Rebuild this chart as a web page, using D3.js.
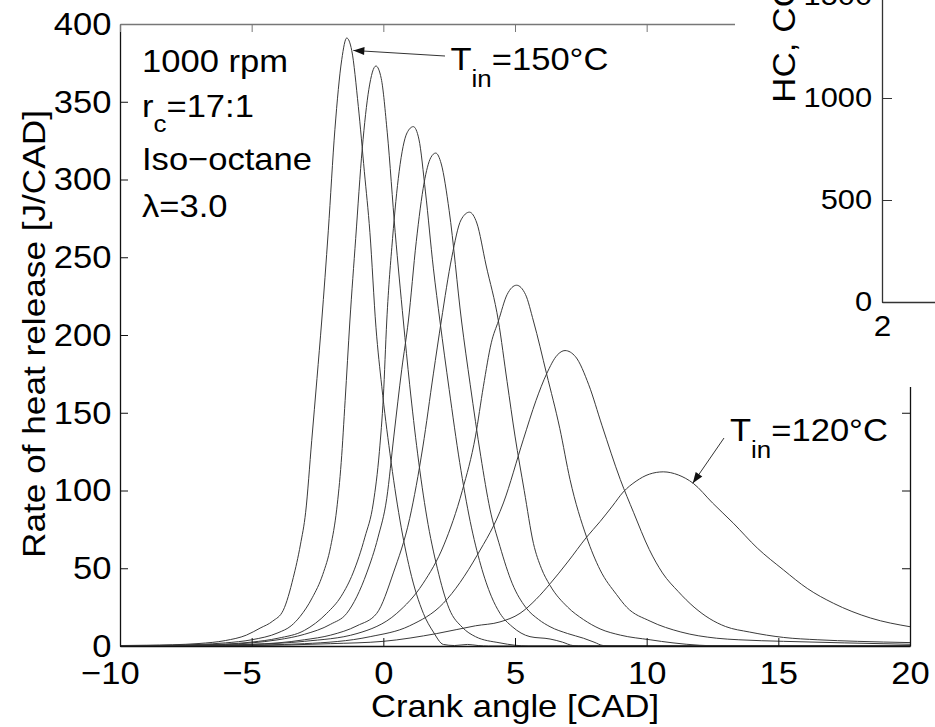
<!DOCTYPE html>
<html><head><meta charset="utf-8">
<script src="https://cdn.jsdelivr.net/npm/d3@7"></script>
<style>
body{margin:0;background:#fff}
text{font-family:"Liberation Sans",Arial,Helvetica,sans-serif;fill:#000}
</style>
</head><body>
<svg id="chart" width="935" height="727"></svg>
<script>
// ---- data (crank angle [CAD], rate of heat release [J/CAD]) ----
const xTicks = [-10, -5, 0, 5, 10, 15, 20];
const yTicks = [0, 50, 100, 150, 200, 250, 300, 350, 400];

const curve1 = [[-10,0.3],[-9,0.5],[-8,0.8],[-7,1.6],[-6,3.5],[-5.2,7],[-4.68,11.5],[-4.2,16],[-3.8,23],[-3.42,44],[-3.15,65],[-2.95,86],[-2.72,132],[-2.52,172],[-2.34,209],[-2.09,267],[-1.84,332],[-1.58,377],[-1.39,391],[-1.2,383],[-0.95,347],[-0.72,305],[-0.51,266],[-0.28,205],[-0.06,167],[0.25,124],[0.63,81],[1.01,49],[1.52,21],[1.9,9],[2.28,1],[2.7,0.3],[3.2,1],[3.6,0.3],[4,0],[20,0]];
const curve2 = [[-10,0.2],[-8,0.5],[-7,1],[-6,2],[-5,4],[-4,8.5],[-3.5,13],[-3.16,19],[-2.7,31],[-2.3,46],[-2.0,64],[-1.77,88],[-1.6,118],[-1.45,158],[-1.27,209],[-1.05,262],[-0.8,320],[-0.55,358],[-0.28,373],[-0.08,365],[0.15,330],[0.45,266],[0.76,209],[1.0,168],[1.3,124],[1.65,83],[2.05,50],[2.5,24],[3.0,12],[3.5,6],[4.43,2],[5,0.5],[5.5,0],[20,0]];
const curve3 = [[-10,0.1],[-8,0.4],[-6,1.2],[-5,2.5],[-4,5],[-3,10],[-2.15,21],[-1.6,32],[-1.15,47],[-0.7,70],[-0.38,92],[-0.15,125],[0.0,160],[0.13,209],[0.35,262],[0.6,305],[0.9,330],[1.14,334],[1.35,326],[1.6,292],[1.9,243],[2.15,209],[2.5,165],[2.9,118],[3.3,80],[3.7,52],[4.1,32],[4.43,21],[4.89,12.5],[5.57,6],[6.33,4.5],[6.8,2.5],[7.2,0.3],[7.6,0],[20,0]];
const curve4 = [[-10,0.1],[-8,0.3],[-6,1],[-5,2],[-4,4],[-3,7.5],[-2,14],[-1.39,21],[-0.63,47],[-0.2,70],[0.13,95],[0.4,135],[0.7,178],[0.95,209],[1.25,260],[1.55,298],[1.8,314],[1.99,317],[2.2,310],[2.5,280],[2.97,209],[3.3,168],[3.7,122],[4.05,88],[4.43,64],[4.9,40],[5.4,25],[5.9,17],[6.33,12.4],[7.0,8],[7.6,5],[8.0,2.5],[8.35,0.3],[8.8,0],[20,0]];
const curve5 = [[-10,0.1],[-8,0.2],[-6,0.6],[-4,2],[-3,4],[-2,7],[-1,13],[-0.25,21],[0.38,47],[1.0,82],[1.5,128],[1.9,175],[2.2,209],[2.6,250],[2.95,274],[3.27,279],[3.55,272],[3.9,245],[4.37,209],[4.7,170],[5.0,135],[5.35,100],[5.7,66],[6.0,50],[6.33,39],[7.0,25],[7.6,17],[8.23,11],[9,7],[10.13,4],[11,2],[12,0.5],[13,0],[20,0]];
const curve6 = [[-10,0],[-7,0.3],[-5,1],[-3,3],[-1,8],[0.51,21],[1.5,40],[2.3,65],[3.0,100],[3.5,135],[3.8,167],[4.1,195],[4.37,209],[4.7,226],[5.06,232],[5.4,226],[5.7,209],[6.2,175],[6.7,140],[7.09,107],[7.72,70],[8.23,49],[8.86,33],[9.24,25],[10.13,16],[11.3,9],[12.66,5],[13.5,4],[15.2,3],[17.5,2],[20,1.1]];
const curve7 = [[-10,0],[-6,0.3],[-3,1.5],[-0.5,6],[1,13],[2.28,27.5],[3.55,58],[4.56,92],[5.32,133],[5.8,158],[6.2,175],[6.6,187],[6.9,190],[7.3,186],[7.8,168],[8.3,142],[9.0,107],[9.5,86],[10.1,62],[10.6,47],[11.2,35],[11.8,25],[12.4,17.5],[13.0,12.5],[13.9,9],[15.2,5.5],[16.5,4],[18,3],[20,2.2]];
const curve8 = [[-10,0],[-5,0.3],[-2,1.5],[0,3],[2.03,8],[3.5,13],[4.43,15.5],[5.19,21],[5.8,30],[6.33,40],[7.0,54],[7.72,70],[8.23,80],[8.7,90],[9.11,99],[9.6,106],[10.1,110.5],[10.63,112],[11.2,110],[11.77,104.6],[12.5,92],[13.29,79],[14.2,63],[15.19,49],[16.1,37],[17.09,27.5],[18.5,18],[20,12.4]];
const curves = [curve1, curve2, curve3, curve4, curve5, curve6, curve7, curve8];

// annotation anchor points on curves
const hotPoint = [-1.14, 383];    // T_in = 150 °C curve
const coldPoint = [11.75, 104.6]; // T_in = 120 °C curve
const conditions = ["1000 rpm", "r_c=17:1", "Iso\u2212octane", "\u03bb=3.0"];

// inset fragment (neighbouring figure) ticks
const insetYTicks = [0, 500, 1000, 1500];
const insetXTicks = [2];

// ---- drawing ----
const svg = d3.select("#chart");
const FS = 32, SX = 1.08;
const L = 120, R = 910, T = 24, B = 646;
const x = d3.scaleLinear().domain([-10, 20]).range([L, R]);
const y = d3.scaleLinear().domain([0, 400]).range([B, T]);

svg.append("rect").attr("width", 935).attr("height", 727).attr("fill", "#fff");

svg.append("clipPath").attr("id", "clip").append("rect")
  .attr("x", L).attr("y", T).attr("width", R - L).attr("height", B - T);

const line = d3.line().x(d => x(d[0])).y(d => y(d[1])).curve(d3.curveMonotoneX);
svg.append("g").attr("clip-path", "url(#clip)")
  .selectAll("path").data(curves).join("path")
  .attr("d", line).attr("fill", "none").attr("stroke", "#3a3a3a").attr("stroke-width", 1);

function styleAxis(g, color, width, fs, sx) {
  g.select(".domain").attr("stroke", color).attr("stroke-width", width);
  g.selectAll(".tick line").attr("stroke", color).attr("stroke-width", 1);
  g.selectAll(".tick text").attr("font-size", fs || FS).attr("fill", "#000")
    .attr("font-family", '"Liberation Sans",Arial,sans-serif')
    .attr("transform", `scale(${sx || SX},1)`);
}

// bottom axis
const gx = svg.append("g").attr("transform", `translate(0,${B})`)
  .call(d3.axisBottom(x).tickValues(xTicks).tickSizeInner(-8).tickSizeOuter(0).tickPadding(15)
    .tickFormat(d => String(Math.abs(d))));
styleAxis(gx, "#111", 1.3);
gx.selectAll(".tick text").each(function (d) {
  if (d < 0) {
    const t = d3.select(this);
    const w = this.getComputedTextLength();
    t.text("\u2212" + Math.abs(d)).attr("text-anchor", "end").attr("x", w / 2);
  }
});
// left axis
const gy = svg.append("g").attr("transform", `translate(${L},0)`)
  .call(d3.axisLeft(y).tickValues(yTicks).tickSizeInner(-8).tickSizeOuter(0).tickPadding(8)
    .tickFormat(d3.format("d")));
styleAxis(gy, "#111", 1.3);
// top axis
const gt = svg.append("g").attr("transform", `translate(0,${T})`)
  .call(d3.axisTop(x).tickValues(xTicks).tickSizeInner(-8).tickSizeOuter(0).tickFormat(""));
styleAxis(gt, "#777", 1.5);
// right axis
const gr = svg.append("g").attr("transform", `translate(${R},0)`)
  .call(d3.axisRight(y).tickValues(yTicks).tickSizeInner(-8).tickSizeOuter(0).tickFormat(""));
styleAxis(gr, "#111", 1.3);

// axis titles
svg.append("text").attr("transform", `translate(515,717) scale(${SX},1)`)
  .attr("text-anchor", "middle").attr("font-size", FS).text("Crank angle [CAD]");
svg.append("text").attr("transform", `translate(45,334) rotate(-90) scale(1.1,1)`)
  .attr("text-anchor", "middle").attr("font-size", FS).text("Rate of heat release [J/CAD]");

// rich label helper: parts [{t, sub}]
function rich(px, py, parts, subShift) {
  const t = svg.append("text").attr("transform", `translate(${px},${py}) scale(${SX},1)`)
    .attr("font-size", FS);
  let shifted = false;
  parts.forEach(p => {
    const s = t.append("tspan").text(p.t);
    if (p.sub) { s.attr("font-size", 24).attr("dy", subShift); shifted = true; }
    else if (shifted) { s.attr("dy", -subShift); shifted = false; }
  });
  return t;
}

// condition labels
rich(142, 72, [{t: conditions[0]}], 0);
rich(142, 117, [{t: "r"}, {t: "c", sub: true}, {t: "=17:1"}], 15);
rich(142, 170, [{t: conditions[2]}], 0);
rich(142, 217, [{t: conditions[3]}], 0);

// annotations with arrows
function arrow(x1, y1, x2, y2) {
  svg.append("line").attr("x1", x1).attr("y1", y1).attr("x2", x2).attr("y2", y2)
    .attr("stroke", "#333").attr("stroke-width", 1);
  const a = Math.atan2(y2 - y1, x2 - x1), len = 11, hw = 4;
  const bx = x2 - len * Math.cos(a), by = y2 - len * Math.sin(a);
  const pts = [[x2, y2], [bx + hw * Math.sin(a), by - hw * Math.cos(a)], [bx - hw * Math.sin(a), by + hw * Math.cos(a)]];
  svg.append("polygon").attr("points", pts.map(p => p.join(",")).join(" ")).attr("fill", "#111");
}
rich(450.5, 70, [{t: "T"}, {t: "in", sub: true}, {t: "=150\u00b0C"}], 17);
arrow(445, 56, x(hotPoint[0]), y(hotPoint[1]));
rich(730, 441, [{t: "T"}, {t: "in", sub: true}, {t: "=120\u00b0C"}], 17);
arrow(724, 438, x(coldPoint[0]), y(coldPoint[1]));

// ---- inset fragment of the neighbouring figure ----
svg.append("rect").attr("x", 735).attr("y", 0).attr("width", 200).attr("height", 387).attr("fill", "#fff");
const yi = d3.scaleLinear().domain([0, 1500]).range([302, -4]);
const xi = d3.scaleLinear().domain([2, 4]).range([882, 1060]);
const giy = svg.append("g").attr("transform", "translate(882,0)")
  .call(d3.axisLeft(yi).tickValues(insetYTicks).tickSizeInner(-10).tickSizeOuter(0).tickPadding(9)
    .tickFormat(d3.format("d")));
styleAxis(giy, "#333", 1.3, 28, 1.1);
const gix = svg.append("g").attr("transform", "translate(0,302)")
  .call(d3.axisBottom(xi).tickValues(insetXTicks).tickSizeInner(-10).tickSizeOuter(0).tickPadding(13)
    .tickFormat(d3.format("d")));
styleAxis(gix, "#333", 1.3, 30, 1.05);
svg.append("text").attr("transform", `translate(795,103) rotate(-90) scale(1.1,1)`)
  .attr("text-anchor", "start").attr("font-size", FS).text("HC, CO");
</script>
</body></html>
